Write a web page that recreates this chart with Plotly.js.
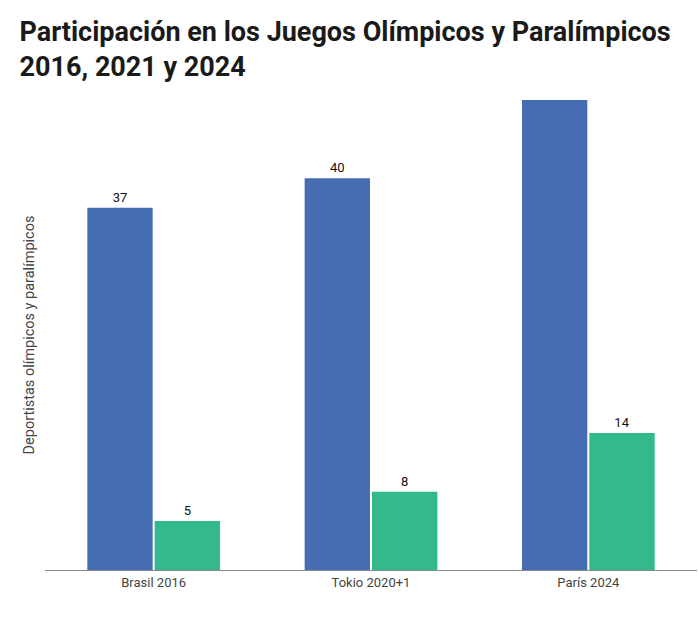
<!DOCTYPE html>
<html>
<head>
<meta charset="utf-8">
<script src="https://cdn.plot.ly/plotly-3.0.1.min.js"></script>
<style>html,body{margin:0;padding:0;background:#fff;}#chart{width:699px;height:629px;}</style>
</head>
<body>
<div id="chart"></div>
<script>
const categories = ["Brasil 2016", "Tokio 2020+1", "París 2024"];
const olimpicos = [37, 40, 48];
const paralimpicos = [5, 8, 14];

const traces = [
  {
    type: "bar", name: "Olímpicos", x: categories, y: olimpicos,
    text: olimpicos.map(String), textposition: "outside", cliponaxis: true,
    textfont: {family: "Roboto, sans-serif", size: 13, color: "#111"},
    marker: {color: "#466db2"}, hoverinfo: "x+y"
  },
  {
    type: "bar", name: "Paralímpicos", x: categories, y: paralimpicos,
    text: paralimpicos.map(String), textposition: "outside", cliponaxis: true,
    textfont: {family: "Roboto, sans-serif", size: 13, color: "#111"},
    marker: {color: "#33b98b"}, hoverinfo: "x+y"
  }
];

const layout = {
  width: 699, height: 629,
  margin: {l: 45, r: 2, t: 100, b: 59},
  paper_bgcolor: "#fff", plot_bgcolor: "#fff",
  showlegend: false,
  barmode: "group", bargap: 0.38, bargroupgap: 0.03,
  title: {
    text: "<b>Participación en los Juegos Olímpicos y Paralímpicos<br>2016, 2021 y 2024</b>",
    font: {family: "Roboto, sans-serif", size: 27, color: "#1a1a1a"},
    x: 0.028, xref: "container", xanchor: "left",
    y: 0.935, yref: "container", yanchor: "top"
  },
  xaxis: {
    showline: true, linecolor: "#888", linewidth: 1,
    ticks: "", tickfont: {family: "Roboto, sans-serif", size: 13, color: "#444"},
    showgrid: false
  },
  yaxis: {
    range: [0, 48], showgrid: false, zeroline: false, showticklabels: false, ticks: "",
    title: {text: "Deportistas olímpicos y paralímpicos", font: {family: "Roboto, sans-serif", size: 14.5, color: "#444"}, standoff: 5}
  }
};

Plotly.newPlot("chart", traces, layout, {displayModeBar: false, staticPlot: true});
</script>
</body>
</html>
